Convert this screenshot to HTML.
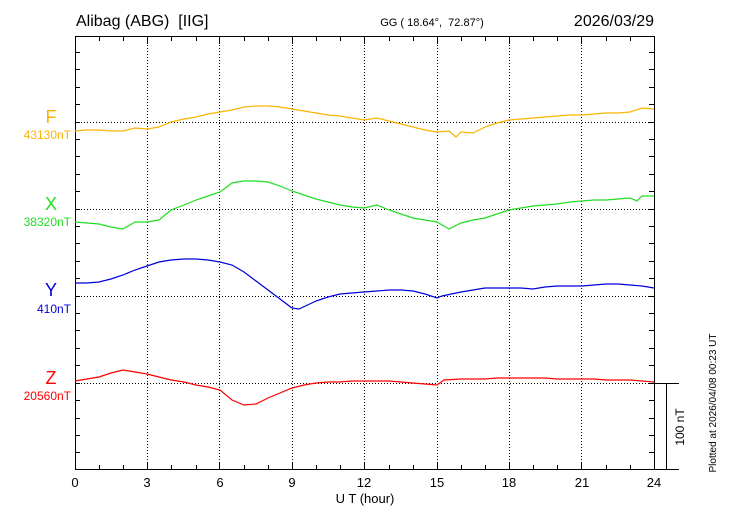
<!DOCTYPE html><html><head><meta charset="utf-8"><style>body{margin:0;background:#fff}svg{display:block;font-family:"Liberation Sans",sans-serif}text{white-space:pre}</style></head><body>
<svg width="730" height="520" viewBox="0 0 730 520" xmlns="http://www.w3.org/2000/svg">
<g stroke="#000" stroke-width="1" fill="none">
<path stroke-dasharray="1,2" d="M147.5 36V470M219.5 36V470M292.5 36V470M364.5 36V470M437.5 36V470M509.5 36V470M581.5 36V470M75 122.5H654M75 209.5H654M75 296.5H654M75 383.5H654"/>
<path d="M147.5 36v8M219.5 36v8M292.5 36v8M364.5 36v8M437.5 36v8M509.5 36v8M581.5 36v8M147.5 470v-8M219.5 470v-8M292.5 470v-8M364.5 470v-8M437.5 470v-8M509.5 470v-8M581.5 470v-8"/>
<path d="M99.5 36v5M123.5 36v5M171.5 36v5M196.5 36v5M244.5 36v5M268.5 36v5M316.5 36v5M340.5 36v5M389.5 36v5M413.5 36v5M461.5 36v5M485.5 36v5M533.5 36v5M557.5 36v5M606.5 36v5M630.5 36v5M99.5 470v-5M123.5 470v-5M171.5 470v-5M196.5 470v-5M244.5 470v-5M268.5 470v-5M316.5 470v-5M340.5 470v-5M389.5 470v-5M413.5 470v-5M461.5 470v-5M485.5 470v-5M533.5 470v-5M557.5 470v-5M606.5 470v-5M630.5 470v-5"/>
<path d="M75 452.5h5M75 435.5h5M75 418.5h5M75 400.5h5M75 383.5h5M75 365.5h5M75 348.5h5M75 330.5h5M75 313.5h5M75 296.5h5M75 278.5h5M75 261.5h5M75 243.5h5M75 226.5h5M75 209.5h5M75 191.5h5M75 174.5h5M75 156.5h5M75 139.5h5M75 122.5h5M75 104.5h5M75 87.5h5M75 69.5h5M75 52.5h5"/>
<path d="M654 452.5h-5M654 435.5h-5M654 418.5h-5M654 400.5h-5M654 383.5h-5M654 365.5h-5M654 348.5h-5M654 330.5h-5M654 313.5h-5M654 296.5h-5M654 278.5h-5M654 261.5h-5M654 243.5h-5M654 226.5h-5M654 209.5h-5M654 191.5h-5M654 174.5h-5M654 156.5h-5M654 139.5h-5M654 122.5h-5M654 104.5h-5M654 87.5h-5M654 69.5h-5M654 52.5h-5"/>
<rect x="75.5" y="36.5" width="579" height="433"/>
<path d="M654 383.5H679M654 469.5H679M666.5 383V470"/>
</g>
<g fill="none" stroke-width="1.2">
<polyline stroke="#fbb400" points="75,131 87,130 99,130 111,131 123,131 135,128 147,129 159,127 171,122 184,119 196,117 208,114 220,112 232,110 244,107 256,106 268,106 280,107 292,109 304,111 316,113 328,115 340,116 352,118 364,120 377,118 389,121 401,124 413,127 425,130 437,132 449,131 456,137 461,132 473,133 485,127 497,123 509,120 521,119 533,118 545,117 557,116 570,115 582,115 594,114 606,113 618,113 630,112 642,108 654,109"/>
<polyline stroke="#22dd22" points="75,222 87,223 99,224 111,227 123,229 135,222 147,222 159,220 171,210 184,205 196,200 208,196 220,192 232,183 244,181 256,181 268,182 280,186 292,191 304,195 316,199 328,202 340,205 352,207 364,208 377,205 389,210 401,214 413,218 425,220 437,222 449,229 461,223 473,220 485,218 497,214 509,210 521,208 533,206 545,205 557,204 570,202 582,201 594,200 606,200 618,199 630,198 637,201 642,196 654,196"/>
<polyline stroke="#0000dd" points="75,283 87,283 99,282 111,279 123,275 135,270 147,266 159,262 171,260 184,259 196,259 208,260 220,262 232,265 244,272 256,281 268,290 280,299 292,308 299,309 316,301 328,297 340,294 352,293 364,292 377,291 389,290 401,290 413,291 425,294 437,298 442,296 461,292 473,290 485,288 497,288 509,288 521,288 533,289 545,287 557,286 570,286 582,286 594,285 606,284 618,284 630,285 642,286 654,288"/>
<polyline stroke="#ff0000" points="75,381 87,379 99,377 111,373 123,370 135,372 147,374 159,377 171,380 184,382 196,385 208,387 220,390 232,400 244,405 256,404 268,398 280,393 292,388 304,385 316,383 328,382 340,382 352,381 364,381 377,381 389,381 401,382 413,383 425,384 437,385 444,380 461,379 473,379 485,379 497,378 509,378 521,378 533,378 545,378 557,379 570,379 582,379 594,379 606,380 618,380 630,380 642,381 654,382"/>
</g>
<text x="76" y="26" font-size="16">Alibag (ABG)  [IIG]</text>
<text x="432" y="26" font-size="11" text-anchor="middle">GG ( 18.64°,  72.87°)</text>
<text x="654" y="26" font-size="16" text-anchor="end">2026/03/29</text>
<g font-size="18" text-anchor="middle"><text x="51" y="123" fill="#fbb400">F</text><text x="51" y="210" fill="#22dd22">X</text><text x="51" y="296" fill="#0000dd">Y</text><text x="51" y="384" fill="#ff0000">Z</text></g>
<g font-size="12" text-anchor="end"><text x="71" y="139" fill="#fbb400">43130nT</text><text x="71" y="226" fill="#22dd22">38320nT</text><text x="71" y="313" fill="#0000dd">410nT</text><text x="71" y="400" fill="#ff0000">20560nT</text></g>
<g font-size="13" text-anchor="middle"><text x="75" y="487">0</text><text x="147" y="487">3</text><text x="220" y="487">6</text><text x="292" y="487">9</text><text x="364" y="487">12</text><text x="437" y="487">15</text><text x="509" y="487">18</text><text x="582" y="487">21</text><text x="654" y="487">24</text></g>
<text x="365" y="503" font-size="13" text-anchor="middle">U T (hour)</text>
<text transform="translate(684,427) rotate(-90)" font-size="12" text-anchor="middle">100 nT</text>
<text transform="translate(716,403) rotate(-90)" font-size="10" text-anchor="middle">Plotted at 2026/04/08 00:23 UT</text>
</svg></body></html>
